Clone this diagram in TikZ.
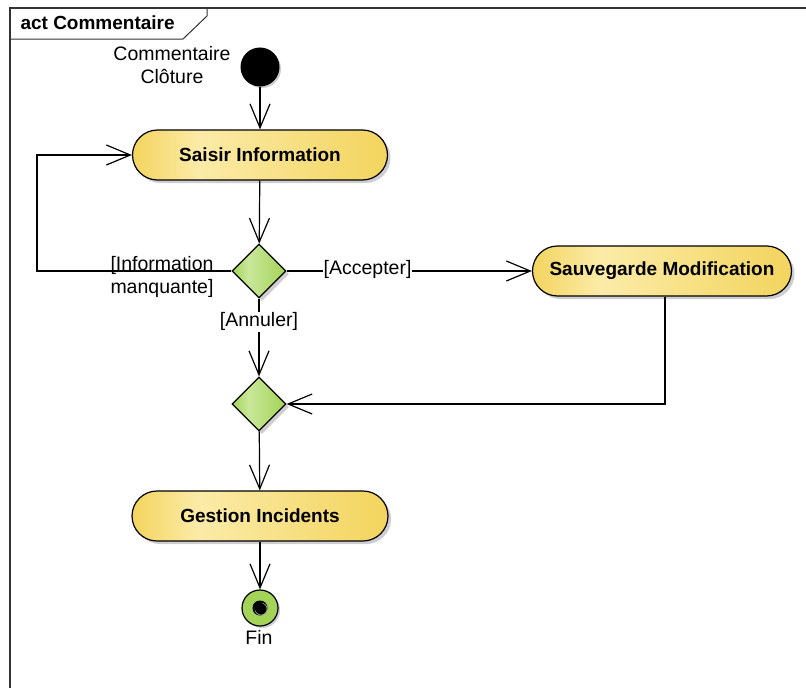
\documentclass[tikz,border=0pt]{standalone}
\usepackage{fontspec}
\setmainfont{Liberation Sans}
\usetikzlibrary{arrows.meta,shapes.geometric,shadows}

\definecolor{ylDark}{HTML}{F3D45E}
\definecolor{ylLight}{HTML}{FBEBA8}
\definecolor{grDark}{HTML}{A3D357}
\definecolor{grLight}{HTML}{C9E79A}
\definecolor{shadowgray}{HTML}{CDCDD2}

% horizontal colour ramps for action and decision fills
\pgfdeclarehorizontalshading{actionfill}{100bp}{%
  color(0bp)=(ylDark); color(25bp)=(ylDark); color(38bp)=(ylLight);
  color(75bp)=(ylDark); color(100bp)=(ylDark)}
\pgfdeclarehorizontalshading{decisionfill}{100bp}{%
  color(0bp)=(grDark); color(25bp)=(grDark); color(40bp)=(grLight);
  color(75bp)=(grDark); color(100bp)=(grDark)}

\begin{document}
\begin{tikzpicture}[x=1pt,y=-1pt,
  every node/.style={font=\fontsize{19.5}{23}\selectfont},
  softshadow/.style={drop shadow={shadow xshift=3pt,shadow yshift=-3pt,fill=shadowgray,opacity=1}},
  action/.style={draw=black,line width=1.2pt,rounded corners=25pt,
    shading=actionfill,softshadow,minimum height=50pt,inner sep=0pt,
    font=\fontsize{19}{23}\selectfont\bfseries},
  decision/.style={diamond,aspect=1,draw=black,line width=1.2pt,
    shading=decisionfill,softshadow,minimum width=54pt,minimum height=54pt,inner sep=0pt},
  startnode/.style={circle,draw=black,fill=black,line width=1pt,minimum size=38pt,inner sep=0pt,
    drop shadow={shadow xshift=2pt,shadow yshift=-2pt,fill=shadowgray,opacity=1}},
  endnode/.style={circle,draw=black,line width=1.2pt,fill=grDark,minimum size=36pt,inner sep=0pt,
    drop shadow={shadow xshift=2pt,shadow yshift=-2pt,fill=shadowgray,opacity=1}},
  flow/.style={draw=black,line width=1.2pt,-{Straight Barb[length=24pt,width=20pt,line width=1.2pt]}},
  guard/.style={fill=white,inner sep=1pt},
]
\useasboundingbox (0,0) rectangle (806,688);

% activity frame with its name tab
\draw[line width=1.3pt,draw=black!80] (806,8) -- (10,8) -- (10,688);
\draw[line width=1pt,draw=black!80] (10,39) -- (183,39) -- (207,16) -- (207,8);
\node[anchor=west,font=\fontsize{19}{23}\selectfont\bfseries] (title) at (17,23) {act Commentaire};

% nodes
\node[startnode] (start) at (260,67) {};
\node[align=center] (startlbl) at (172,65) {Commentaire\\Clôture};
\node[action,minimum width=255pt] (saisir) at (260,155) {Saisir Information};
\node[decision] (d1) at (259,271) {};
\node[action,minimum width=259pt] (sauv) at (662,271) {Sauvegarde Modification};
\node[decision] (d2) at (259,404) {};
\node[action,minimum width=256pt] (gestion) at (260,516) {Gestion Incidents};
\node[endnode] (fin) at (260,608) {};
\fill[black] (fin.center) circle (7.5pt);
\draw[gray!60,line width=0.6pt] (fin.center) ++(1pt,-1pt) circle (6pt);
\fill[black] (fin.center) circle (5.5pt);
\node (finlbl) at (259,637) {Fin};

\coordinate (loopc) at (37,271);
\node[align=center] (misslbl) at (162,277) {[Information\\manquante]};

% control flows
\draw[flow] (start) -- (saisir);
\draw[flow] (saisir) -- (d1);
\draw[flow] (d1.west) -- (loopc) |- (saisir.west);
\draw[flow] (d1.east) -- node[guard,pos=0.33,yshift=2pt] (acc) {[Accepter]} (sauv.west);
\draw[flow] (d1.south) -- node[guard,pos=0.3] (ann) {[Annuler]} (d2.north);
\draw[flow] (sauv.south) ++(3,0) |- (d2.east);
\draw[flow] (d2) -- (gestion);
\draw[flow] (gestion) -- (fin);
\end{tikzpicture}
\end{document}
